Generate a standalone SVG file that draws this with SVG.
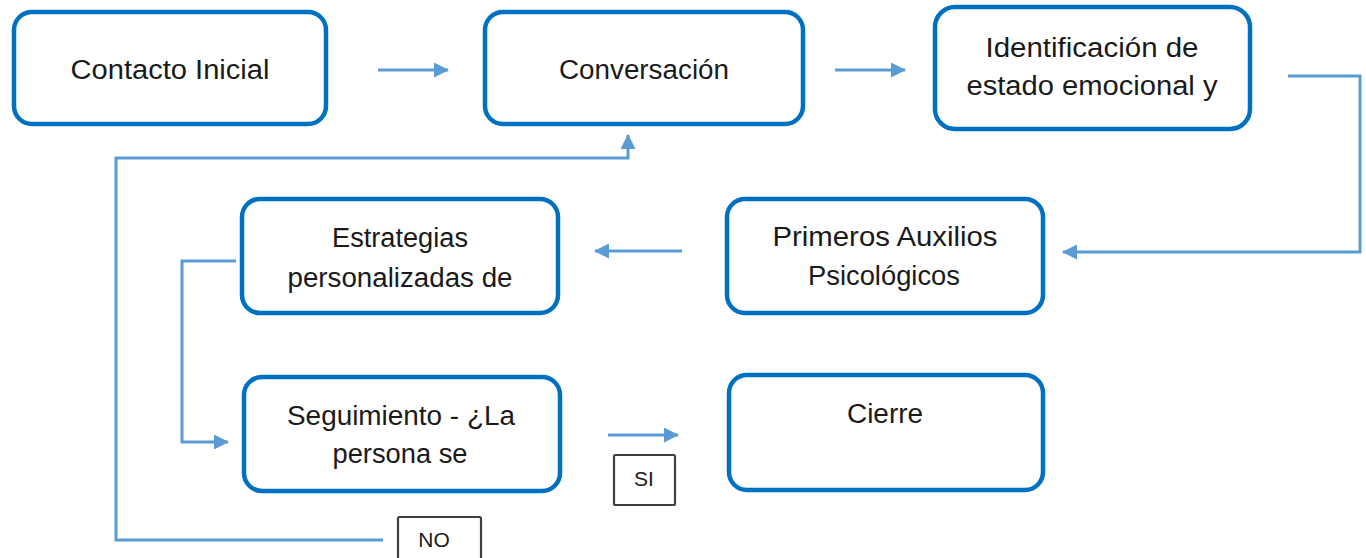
<svg xmlns="http://www.w3.org/2000/svg" width="1366" height="558" viewBox="0 0 1366 558">
  <style>
    .box { fill: #ffffff; stroke: #0070C0; stroke-width: 4.5; }
    .lbl { fill: #ffffff; stroke: #404040; stroke-width: 2.2; }
    .t { font-family: "Liberation Sans", Arial, sans-serif; font-size: 27px; fill: #1a1a1a; text-anchor: middle; }
    .s { font-family: "Liberation Sans", Arial, sans-serif; font-size: 21px; fill: #1a1a1a; text-anchor: middle; }
    .c { fill: none; stroke: #5B9BD5; stroke-width: 3; }
  </style>
  <defs>
    <marker id="ah" markerUnits="userSpaceOnUse" markerWidth="15" markerHeight="15" viewBox="0 0 15 15" refX="14" refY="7.5" orient="auto">
      <path d="M0,0 L15,7.5 L0,15 z" fill="#5B9BD5"/>
    </marker>
  </defs>
  <rect width="1366" height="558" fill="#ffffff"/>

  <g id="connectors">
    <path class="c" d="M378,70 L448,70" marker-end="url(#ah)"/>
    <path class="c" d="M835,70 L905,70" marker-end="url(#ah)"/>
    <path class="c" d="M1288,76 L1360,76 L1360,252 L1063,252" marker-end="url(#ah)"/>
    <path class="c" d="M682,251 L595,251" marker-end="url(#ah)"/>
    <path class="c" d="M236,261 L182,261 L182,442 L228,442" marker-end="url(#ah)"/>
    <path class="c" d="M608,435 L678,435" marker-end="url(#ah)"/>
    <path class="c" d="M383,540 L116,540 L116,158 L628,158 L628,135" marker-end="url(#ah)"/>
  </g>

  <g id="contacto-inicial">
    <rect class="box" x="14" y="12" width="312" height="112" rx="18"/>
    <text class="t" x="170" y="79" textLength="199" lengthAdjust="spacingAndGlyphs">Contacto Inicial</text>
  </g>
  <g id="conversacion">
    <rect class="box" x="485" y="12" width="318" height="112" rx="18"/>
    <text class="t" x="644" y="79" textLength="170" lengthAdjust="spacingAndGlyphs">Conversación</text>
  </g>
  <g id="identificacion">
    <rect class="box" x="935" y="7" width="315" height="122" rx="20"/>
    <text class="t" x="1092" y="57" textLength="213" lengthAdjust="spacingAndGlyphs">Identificación de</text>
    <text class="t" x="1092" y="95" textLength="251" lengthAdjust="spacingAndGlyphs">estado emocional y</text>
  </g>
  <g id="primeros-auxilios">
    <rect class="box" x="727" y="199" width="316" height="114" rx="18"/>
    <text class="t" x="885" y="246" textLength="225" lengthAdjust="spacingAndGlyphs">Primeros Auxilios</text>
    <text class="t" x="884" y="285" textLength="152" lengthAdjust="spacingAndGlyphs">Psicológicos</text>
  </g>
  <g id="estrategias">
    <rect class="box" x="242" y="199" width="316" height="114" rx="18"/>
    <text class="t" x="400" y="247" textLength="136" lengthAdjust="spacingAndGlyphs">Estrategias</text>
    <text class="t" x="400" y="287" textLength="225" lengthAdjust="spacingAndGlyphs">personalizadas de</text>
  </g>
  <g id="seguimiento">
    <rect class="box" x="244" y="377" width="316" height="114" rx="18"/>
    <text class="t" x="401" y="425" textLength="228" lengthAdjust="spacingAndGlyphs">Seguimiento - ¿La</text>
    <text class="t" x="400" y="463" textLength="135" lengthAdjust="spacingAndGlyphs">persona se</text>
  </g>
  <g id="cierre">
    <rect class="box" x="729" y="375" width="314" height="115" rx="18"/>
    <text class="t" x="885" y="423" textLength="76" lengthAdjust="spacingAndGlyphs">Cierre</text>
  </g>
  <g id="label-si">
    <rect class="lbl" x="614" y="455" width="61" height="50" rx="1.5"/>
    <text class="s" x="644" y="486">SI</text>
  </g>
  <g id="label-no">
    <rect class="lbl" x="398" y="517" width="83" height="50" rx="1.5"/>
    <text class="s" x="434" y="547">NO</text>
  </g>
</svg>
